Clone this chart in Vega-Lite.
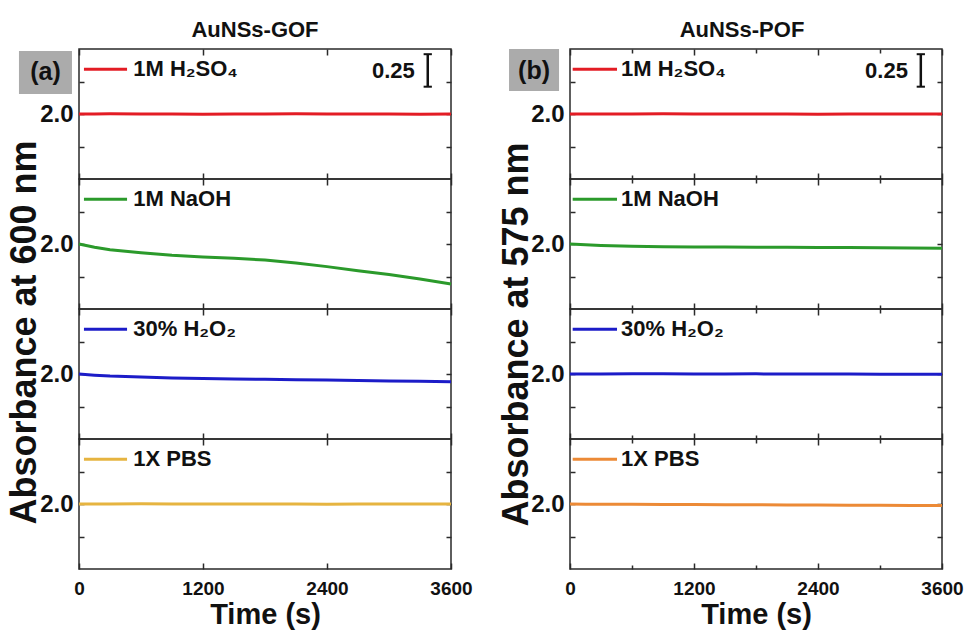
{
"$schema":"https://vega.github.io/schema/vega-lite/v6.json",
"padding":{"left":5,"top":18,"right":5,"bottom":0},
"background":"white",
"config":{"font":"Liberation Sans","view":{"stroke":"#2a2a2a","strokeWidth":1.5},
"axis":{"domain":false,"grid":false,"tickColor":"#2a2a2a","tickWidth":1.5,"labelFontWeight":"bold","labelColor":"#111","titleColor":"#111","titleFontWeight":"bold"},
"title":{"fontWeight":"bold","color":"#111","font":"Liberation Sans"}},
"datasets":{"abs":[
{"panel":"a","series":"1M H₂SO₄","t":0,"A":2.0},{"panel":"a","series":"1M H₂SO₄","t":150,"A":2.0},{"panel":"a","series":"1M H₂SO₄","t":300,"A":2.001},{"panel":"a","series":"1M H₂SO₄","t":600,"A":2.0},{"panel":"a","series":"1M H₂SO₄","t":900,"A":2.0},{"panel":"a","series":"1M H₂SO₄","t":1200,"A":1.999},{"panel":"a","series":"1M H₂SO₄","t":1500,"A":2.0},{"panel":"a","series":"1M H₂SO₄","t":1800,"A":2.0},{"panel":"a","series":"1M H₂SO₄","t":2100,"A":2.001},{"panel":"a","series":"1M H₂SO₄","t":2400,"A":2.0},{"panel":"a","series":"1M H₂SO₄","t":2700,"A":2.0},{"panel":"a","series":"1M H₂SO₄","t":3000,"A":2.0},{"panel":"a","series":"1M H₂SO₄","t":3300,"A":1.999},{"panel":"a","series":"1M H₂SO₄","t":3600,"A":2.0},
{"panel":"a","series":"1M NaOH","t":0,"A":2.0},{"panel":"a","series":"1M NaOH","t":150,"A":1.975},{"panel":"a","series":"1M NaOH","t":300,"A":1.955},{"panel":"a","series":"1M NaOH","t":600,"A":1.933},{"panel":"a","series":"1M NaOH","t":900,"A":1.913},{"panel":"a","series":"1M NaOH","t":1200,"A":1.9},{"panel":"a","series":"1M NaOH","t":1500,"A":1.891},{"panel":"a","series":"1M NaOH","t":1800,"A":1.876},{"panel":"a","series":"1M NaOH","t":2100,"A":1.854},{"panel":"a","series":"1M NaOH","t":2400,"A":1.826},{"panel":"a","series":"1M NaOH","t":2700,"A":1.795},{"panel":"a","series":"1M NaOH","t":3000,"A":1.765},{"panel":"a","series":"1M NaOH","t":3300,"A":1.73},{"panel":"a","series":"1M NaOH","t":3600,"A":1.692},
{"panel":"a","series":"30% H₂O₂","t":0,"A":2.0},{"panel":"a","series":"30% H₂O₂","t":150,"A":1.991},{"panel":"a","series":"30% H₂O₂","t":300,"A":1.984},{"panel":"a","series":"30% H₂O₂","t":600,"A":1.976},{"panel":"a","series":"30% H₂O₂","t":900,"A":1.970},{"panel":"a","series":"30% H₂O₂","t":1200,"A":1.966},{"panel":"a","series":"30% H₂O₂","t":1500,"A":1.962},{"panel":"a","series":"30% H₂O₂","t":1800,"A":1.959},{"panel":"a","series":"30% H₂O₂","t":2100,"A":1.956},{"panel":"a","series":"30% H₂O₂","t":2400,"A":1.953},{"panel":"a","series":"30% H₂O₂","t":2700,"A":1.950},{"panel":"a","series":"30% H₂O₂","t":3000,"A":1.947},{"panel":"a","series":"30% H₂O₂","t":3300,"A":1.945},{"panel":"a","series":"30% H₂O₂","t":3600,"A":1.941},
{"panel":"a","series":"1X PBS","t":0,"A":2.0},{"panel":"a","series":"1X PBS","t":150,"A":2.0},{"panel":"a","series":"1X PBS","t":300,"A":2.0},{"panel":"a","series":"1X PBS","t":600,"A":2.001},{"panel":"a","series":"1X PBS","t":900,"A":2.0},{"panel":"a","series":"1X PBS","t":1200,"A":2.0},{"panel":"a","series":"1X PBS","t":1500,"A":2.0},{"panel":"a","series":"1X PBS","t":1800,"A":2.0},{"panel":"a","series":"1X PBS","t":2100,"A":2.0},{"panel":"a","series":"1X PBS","t":2400,"A":1.999},{"panel":"a","series":"1X PBS","t":2700,"A":2.0},{"panel":"a","series":"1X PBS","t":3000,"A":2.0},{"panel":"a","series":"1X PBS","t":3300,"A":2.0},{"panel":"a","series":"1X PBS","t":3600,"A":2.0},
{"panel":"b","series":"1M H₂SO₄","t":0,"A":2.0},{"panel":"b","series":"1M H₂SO₄","t":150,"A":2.0},{"panel":"b","series":"1M H₂SO₄","t":300,"A":2.0},{"panel":"b","series":"1M H₂SO₄","t":600,"A":2.0},{"panel":"b","series":"1M H₂SO₄","t":900,"A":2.001},{"panel":"b","series":"1M H₂SO₄","t":1200,"A":2.0},{"panel":"b","series":"1M H₂SO₄","t":1500,"A":2.0},{"panel":"b","series":"1M H₂SO₄","t":1800,"A":2.0},{"panel":"b","series":"1M H₂SO₄","t":2100,"A":2.0},{"panel":"b","series":"1M H₂SO₄","t":2400,"A":1.999},{"panel":"b","series":"1M H₂SO₄","t":2700,"A":2.0},{"panel":"b","series":"1M H₂SO₄","t":3000,"A":2.0},{"panel":"b","series":"1M H₂SO₄","t":3300,"A":2.0},{"panel":"b","series":"1M H₂SO₄","t":3600,"A":2.0},
{"panel":"b","series":"1M NaOH","t":0,"A":2.0},{"panel":"b","series":"1M NaOH","t":150,"A":1.994},{"panel":"b","series":"1M NaOH","t":300,"A":1.989},{"panel":"b","series":"1M NaOH","t":600,"A":1.983},{"panel":"b","series":"1M NaOH","t":900,"A":1.979},{"panel":"b","series":"1M NaOH","t":1200,"A":1.977},{"panel":"b","series":"1M NaOH","t":1500,"A":1.976},{"panel":"b","series":"1M NaOH","t":1800,"A":1.975},{"panel":"b","series":"1M NaOH","t":2100,"A":1.975},{"panel":"b","series":"1M NaOH","t":2400,"A":1.974},{"panel":"b","series":"1M NaOH","t":2700,"A":1.973},{"panel":"b","series":"1M NaOH","t":3000,"A":1.971},{"panel":"b","series":"1M NaOH","t":3300,"A":1.969},{"panel":"b","series":"1M NaOH","t":3600,"A":1.967},
{"panel":"b","series":"30% H₂O₂","t":0,"A":2.0},{"panel":"b","series":"30% H₂O₂","t":150,"A":2.0},{"panel":"b","series":"30% H₂O₂","t":300,"A":2.0},{"panel":"b","series":"30% H₂O₂","t":600,"A":2.001},{"panel":"b","series":"30% H₂O₂","t":900,"A":2.001},{"panel":"b","series":"30% H₂O₂","t":1200,"A":2.0},{"panel":"b","series":"30% H₂O₂","t":1500,"A":2.0},{"panel":"b","series":"30% H₂O₂","t":1800,"A":2.001},{"panel":"b","series":"30% H₂O₂","t":2100,"A":2.0},{"panel":"b","series":"30% H₂O₂","t":2400,"A":2.0},{"panel":"b","series":"30% H₂O₂","t":2700,"A":2.0},{"panel":"b","series":"30% H₂O₂","t":3000,"A":1.999},{"panel":"b","series":"30% H₂O₂","t":3300,"A":1.999},{"panel":"b","series":"30% H₂O₂","t":3600,"A":1.999},
{"panel":"b","series":"1X PBS","t":0,"A":2.0},{"panel":"b","series":"1X PBS","t":150,"A":1.999},{"panel":"b","series":"1X PBS","t":300,"A":1.999},{"panel":"b","series":"1X PBS","t":600,"A":1.998},{"panel":"b","series":"1X PBS","t":900,"A":1.997},{"panel":"b","series":"1X PBS","t":1200,"A":1.996},{"panel":"b","series":"1X PBS","t":1500,"A":1.995},{"panel":"b","series":"1X PBS","t":1800,"A":1.994},{"panel":"b","series":"1X PBS","t":2100,"A":1.993},{"panel":"b","series":"1X PBS","t":2400,"A":1.992},{"panel":"b","series":"1X PBS","t":2700,"A":1.991},{"panel":"b","series":"1X PBS","t":3000,"A":1.990},{"panel":"b","series":"1X PBS","t":3300,"A":1.989},{"panel":"b","series":"1X PBS","t":3600,"A":1.988}
]},
"data":{"name":"abs"},
"spacing":24,
"hconcat":[
{"spacing":0,"bounds":"flush",
 "vconcat":[
 {"width":372,"height":130,
  "title":{"text":"AuNSs-GOF","fontSize":22,"anchor":"middle","offset":6,"dx":-10},
  "transform":[{"filter":"datum.panel === 'a' && datum.series === '1M H₂SO₄'"}],
  "resolve":{"axis":{"x":"independent","y":"independent"}},
  "layer":[
   {"mark":{"type":"line","color":"#e31c24","strokeWidth":3},
    "encoding":{"x":{"field":"t","type":"quantitative","scale":{"domain":[0,3600],"nice":false,"zero":false},"axis":{"orient":"bottom","values":[0,1200,2400,3600],"tickSize":-6,"labels":false,"title":null}},
     "y":{"field":"A","type":"quantitative","scale":{"domain":[1.5,2.5],"nice":false,"zero":false},"axis":{"orient":"left","values":[1.75,2,2.25],"tickSize":-5,"labelExpr":"datum.value === 2 ? '2.0' : ''","labelFontSize":24,"labelPadding":11,"title":"Absorbance at 600 nm","titleFontSize":36,"titleX":-55,"titleY":283,"titleAngle":-90,"titleAlign":"center","titleBaseline":"middle"}}}},
   {"transform":[{"filter":"datum.t === 0"}],"mark":{"type":"rule","color":"#e31c24","strokeWidth":3},
    "encoding":{"x":{"datum":48,"type":"quantitative","axis":{"orient":"top","values":[0,1200,2400,3600],"tickSize":-6,"labels":false,"title":null}},"x2":{"datum":465},
     "y":{"datum":2.345,"type":"quantitative","axis":{"orient":"right","values":[1.75,2,2.25],"tickSize":-5,"labels":false,"title":null}}}},
   {"transform":[{"filter":"datum.t === 0"}],"mark":{"type":"text","align":"left","baseline":"middle","fontSize":22,"fontWeight":"bold","color":"#111"},
    "encoding":{"x":{"datum":525,"type":"quantitative","axis":null},"y":{"datum":2.345,"type":"quantitative","axis":null},"text":{"field":"series"}}},
   {"transform":[{"filter":"datum.t === 0"}],"mark":{"type":"rect","color":"#ababab"},
    "encoding":{"x":{"datum":-581,"type":"quantitative","axis":null},"x2":{"datum":-68},"y":{"datum":2.485,"type":"quantitative","axis":null},"y2":{"datum":2.154}}},
   {"transform":[{"filter":"datum.t === 0"}],"mark":{"type":"text","text":"(a)","fontSize":25,"fontWeight":"bold","color":"#111","align":"center","baseline":"middle"},
    "encoding":{"x":{"datum":-324,"type":"quantitative","axis":null},"y":{"datum":2.32,"type":"quantitative","axis":null}}},
   {"transform":[{"filter":"datum.t === 0"}],"mark":{"type":"rule","color":"#111","strokeWidth":2.5},
    "encoding":{"x":{"datum":3375,"type":"quantitative","axis":null},"y":{"datum":2.46,"type":"quantitative","axis":null},"y2":{"datum":2.21}}},
   {"transform":[{"filter":"datum.t === 0"}],"mark":{"type":"rule","color":"#111","strokeWidth":2},
    "encoding":{"x":{"datum":3335,"type":"quantitative","axis":null},"x2":{"datum":3415},"y":{"datum":2.46,"type":"quantitative","axis":null}}},
   {"transform":[{"filter":"datum.t === 0"}],"mark":{"type":"rule","color":"#111","strokeWidth":2},
    "encoding":{"x":{"datum":3335,"type":"quantitative","axis":null},"x2":{"datum":3415},"y":{"datum":2.21,"type":"quantitative","axis":null}}},
   {"transform":[{"filter":"datum.t === 0"}],"mark":{"type":"text","text":"0.25","fontSize":22,"fontWeight":"bold","color":"#111","align":"right","baseline":"middle"},
    "encoding":{"x":{"datum":3250,"type":"quantitative","axis":null},"y":{"datum":2.33,"type":"quantitative","axis":null}}}
  ]},
 {"width":372,"height":130,
  "transform":[{"filter":"datum.panel === 'a' && datum.series === '1M NaOH'"}],
  "resolve":{"axis":{"x":"independent","y":"independent"}},
  "layer":[
   {"mark":{"type":"line","color":"#2b9a2b","strokeWidth":3},
    "encoding":{"x":{"field":"t","type":"quantitative","scale":{"domain":[0,3600],"nice":false,"zero":false},"axis":{"orient":"bottom","values":[0,1200,2400,3600],"tickSize":-6,"labels":false,"title":null}},
     "y":{"field":"A","type":"quantitative","scale":{"domain":[1.5,2.5],"nice":false,"zero":false},"axis":{"orient":"left","values":[1.75,2,2.25],"tickSize":-5,"labelExpr":"datum.value === 2 ? '2.0' : ''","labelFontSize":24,"labelPadding":11,"title":null}}}},
   {"transform":[{"filter":"datum.t === 0"}],"mark":{"type":"rule","color":"#2b9a2b","strokeWidth":3},
    "encoding":{"x":{"datum":48,"type":"quantitative","axis":{"orient":"top","values":[0,1200,2400,3600],"tickSize":-6,"labels":false,"title":null}},"x2":{"datum":465},
     "y":{"datum":2.345,"type":"quantitative","axis":{"orient":"right","values":[1.75,2,2.25],"tickSize":-5,"labels":false,"title":null}}}},
   {"transform":[{"filter":"datum.t === 0"}],"mark":{"type":"text","align":"left","baseline":"middle","fontSize":22,"fontWeight":"bold","color":"#111"},
    "encoding":{"x":{"datum":525,"type":"quantitative","axis":null},"y":{"datum":2.345,"type":"quantitative","axis":null},"text":{"field":"series"}}}
  ]},
 {"width":372,"height":130,
  "transform":[{"filter":"datum.panel === 'a' && datum.series === '30% H₂O₂'"}],
  "resolve":{"axis":{"x":"independent","y":"independent"}},
  "layer":[
   {"mark":{"type":"line","color":"#1c1cc8","strokeWidth":3},
    "encoding":{"x":{"field":"t","type":"quantitative","scale":{"domain":[0,3600],"nice":false,"zero":false},"axis":{"orient":"bottom","values":[0,1200,2400,3600],"tickSize":-6,"labels":false,"title":null}},
     "y":{"field":"A","type":"quantitative","scale":{"domain":[1.5,2.5],"nice":false,"zero":false},"axis":{"orient":"left","values":[1.75,2,2.25],"tickSize":-5,"labelExpr":"datum.value === 2 ? '2.0' : ''","labelFontSize":24,"labelPadding":11,"title":null}}}},
   {"transform":[{"filter":"datum.t === 0"}],"mark":{"type":"rule","color":"#1c1cc8","strokeWidth":3},
    "encoding":{"x":{"datum":48,"type":"quantitative","axis":{"orient":"top","values":[0,1200,2400,3600],"tickSize":-6,"labels":false,"title":null}},"x2":{"datum":465},
     "y":{"datum":2.345,"type":"quantitative","axis":{"orient":"right","values":[1.75,2,2.25],"tickSize":-5,"labels":false,"title":null}}}},
   {"transform":[{"filter":"datum.t === 0"}],"mark":{"type":"text","align":"left","baseline":"middle","fontSize":22,"fontWeight":"bold","color":"#111"},
    "encoding":{"x":{"datum":525,"type":"quantitative","axis":null},"y":{"datum":2.345,"type":"quantitative","axis":null},"text":{"field":"series"}}}
  ]},
 {"width":372,"height":130,
  "transform":[{"filter":"datum.panel === 'a' && datum.series === '1X PBS'"}],
  "resolve":{"axis":{"x":"independent","y":"independent"}},
  "layer":[
   {"mark":{"type":"line","color":"#e6b440","strokeWidth":3},
    "encoding":{"x":{"field":"t","type":"quantitative","scale":{"domain":[0,3600],"nice":false,"zero":false},"axis":{"orient":"bottom","values":[0,1200,2400,3600],"tickSize":-6,"format":"d","labelFontSize":19,"labelPadding":16,"labelFlush":false,"title":"Time (s)","titleFontSize":29,"titlePadding":2}},
     "y":{"field":"A","type":"quantitative","scale":{"domain":[1.5,2.5],"nice":false,"zero":false},"axis":{"orient":"left","values":[1.75,2,2.25],"tickSize":-5,"labelExpr":"datum.value === 2 ? '2.0' : ''","labelFontSize":24,"labelPadding":11,"title":null}}}},
   {"transform":[{"filter":"datum.t === 0"}],"mark":{"type":"rule","color":"#e6b440","strokeWidth":3},
    "encoding":{"x":{"datum":48,"type":"quantitative","axis":{"orient":"top","values":[0,1200,2400,3600],"tickSize":-6,"labels":false,"title":null}},"x2":{"datum":465},
     "y":{"datum":2.345,"type":"quantitative","axis":{"orient":"right","values":[1.75,2,2.25],"tickSize":-5,"labels":false,"title":null}}}},
   {"transform":[{"filter":"datum.t === 0"}],"mark":{"type":"text","align":"left","baseline":"middle","fontSize":22,"fontWeight":"bold","color":"#111"},
    "encoding":{"x":{"datum":525,"type":"quantitative","axis":null},"y":{"datum":2.345,"type":"quantitative","axis":null},"text":{"field":"series"}}}
  ]}
 ]},
{"spacing":0,"bounds":"flush",
 "vconcat":[
 {"width":372,"height":130,
  "title":{"text":"AuNSs-POF","fontSize":22,"anchor":"middle","offset":6,"dx":-14},
  "transform":[{"filter":"datum.panel === 'b' && datum.series === '1M H₂SO₄'"}],
  "resolve":{"axis":{"x":"independent","y":"independent"}},
  "layer":[
   {"mark":{"type":"line","color":"#e31c24","strokeWidth":3},
    "encoding":{"x":{"field":"t","type":"quantitative","scale":{"domain":[0,3600],"nice":false,"zero":false},"axis":{"orient":"bottom","values":[0,600,1200,1800,2400,3000,3600],"tickSize":{"condition":{"test":"datum.value % 1200 === 0","value":-6},"value":-4},"labels":false,"title":null}},
     "y":{"field":"A","type":"quantitative","scale":{"domain":[1.5,2.5],"nice":false,"zero":false},"axis":{"orient":"left","values":[1.75,2,2.25],"tickSize":-5,"labelExpr":"datum.value === 2 ? '2.0' : ''","labelFontSize":24,"labelPadding":11,"title":"Absorbance at 575 nm","titleFontSize":36,"titleX":-54,"titleY":285,"titleAngle":-90,"titleAlign":"center","titleBaseline":"middle"}}}},
   {"transform":[{"filter":"datum.t === 0"}],"mark":{"type":"rule","color":"#e31c24","strokeWidth":3},
    "encoding":{"x":{"datum":26,"type":"quantitative","axis":{"orient":"top","values":[0,600,1200,1800,2400,3000,3600],"tickSize":{"condition":{"test":"datum.value % 1200 === 0","value":-6},"value":-4},"labels":false,"title":null}},"x2":{"datum":455},
     "y":{"datum":2.345,"type":"quantitative","axis":{"orient":"right","values":[1.75,2,2.25],"tickSize":-5,"labels":false,"title":null}}}},
   {"transform":[{"filter":"datum.t === 0"}],"mark":{"type":"text","align":"left","baseline":"middle","fontSize":22,"fontWeight":"bold","color":"#111"},
    "encoding":{"x":{"datum":494,"type":"quantitative","axis":null},"y":{"datum":2.345,"type":"quantitative","axis":null},"text":{"field":"series"}}},
   {"transform":[{"filter":"datum.t === 0"}],"mark":{"type":"rect","color":"#ababab"},
    "encoding":{"x":{"datum":-590,"type":"quantitative","axis":null},"x2":{"datum":-106},"y":{"datum":2.5,"type":"quantitative","axis":null},"y2":{"datum":2.177}}},
   {"transform":[{"filter":"datum.t === 0"}],"mark":{"type":"text","text":"(b)","fontSize":25,"fontWeight":"bold","color":"#111","align":"center","baseline":"middle"},
    "encoding":{"x":{"datum":-348,"type":"quantitative","axis":null},"y":{"datum":2.33,"type":"quantitative","axis":null}}},
   {"transform":[{"filter":"datum.t === 0"}],"mark":{"type":"rule","color":"#111","strokeWidth":2.5},
    "encoding":{"x":{"datum":3395,"type":"quantitative","axis":null},"y":{"datum":2.46,"type":"quantitative","axis":null},"y2":{"datum":2.21}}},
   {"transform":[{"filter":"datum.t === 0"}],"mark":{"type":"rule","color":"#111","strokeWidth":2},
    "encoding":{"x":{"datum":3355,"type":"quantitative","axis":null},"x2":{"datum":3435},"y":{"datum":2.46,"type":"quantitative","axis":null}}},
   {"transform":[{"filter":"datum.t === 0"}],"mark":{"type":"rule","color":"#111","strokeWidth":2},
    "encoding":{"x":{"datum":3355,"type":"quantitative","axis":null},"x2":{"datum":3435},"y":{"datum":2.21,"type":"quantitative","axis":null}}},
   {"transform":[{"filter":"datum.t === 0"}],"mark":{"type":"text","text":"0.25","fontSize":22,"fontWeight":"bold","color":"#111","align":"right","baseline":"middle"},
    "encoding":{"x":{"datum":3270,"type":"quantitative","axis":null},"y":{"datum":2.33,"type":"quantitative","axis":null}}}
  ]},
 {"width":372,"height":130,
  "transform":[{"filter":"datum.panel === 'b' && datum.series === '1M NaOH'"}],
  "resolve":{"axis":{"x":"independent","y":"independent"}},
  "layer":[
   {"mark":{"type":"line","color":"#2b9a2b","strokeWidth":3},
    "encoding":{"x":{"field":"t","type":"quantitative","scale":{"domain":[0,3600],"nice":false,"zero":false},"axis":{"orient":"bottom","values":[0,600,1200,1800,2400,3000,3600],"tickSize":{"condition":{"test":"datum.value % 1200 === 0","value":-6},"value":-4},"labels":false,"title":null}},
     "y":{"field":"A","type":"quantitative","scale":{"domain":[1.5,2.5],"nice":false,"zero":false},"axis":{"orient":"left","values":[1.75,2,2.25],"tickSize":-5,"labelExpr":"datum.value === 2 ? '2.0' : ''","labelFontSize":24,"labelPadding":11,"title":null}}}},
   {"transform":[{"filter":"datum.t === 0"}],"mark":{"type":"rule","color":"#2b9a2b","strokeWidth":3},
    "encoding":{"x":{"datum":26,"type":"quantitative","axis":{"orient":"top","values":[0,600,1200,1800,2400,3000,3600],"tickSize":{"condition":{"test":"datum.value % 1200 === 0","value":-6},"value":-4},"labels":false,"title":null}},"x2":{"datum":455},
     "y":{"datum":2.345,"type":"quantitative","axis":{"orient":"right","values":[1.75,2,2.25],"tickSize":-5,"labels":false,"title":null}}}},
   {"transform":[{"filter":"datum.t === 0"}],"mark":{"type":"text","align":"left","baseline":"middle","fontSize":22,"fontWeight":"bold","color":"#111"},
    "encoding":{"x":{"datum":494,"type":"quantitative","axis":null},"y":{"datum":2.345,"type":"quantitative","axis":null},"text":{"field":"series"}}}
  ]},
 {"width":372,"height":130,
  "transform":[{"filter":"datum.panel === 'b' && datum.series === '30% H₂O₂'"}],
  "resolve":{"axis":{"x":"independent","y":"independent"}},
  "layer":[
   {"mark":{"type":"line","color":"#1c1cc8","strokeWidth":3},
    "encoding":{"x":{"field":"t","type":"quantitative","scale":{"domain":[0,3600],"nice":false,"zero":false},"axis":{"orient":"bottom","values":[0,600,1200,1800,2400,3000,3600],"tickSize":{"condition":{"test":"datum.value % 1200 === 0","value":-6},"value":-4},"labels":false,"title":null}},
     "y":{"field":"A","type":"quantitative","scale":{"domain":[1.5,2.5],"nice":false,"zero":false},"axis":{"orient":"left","values":[1.75,2,2.25],"tickSize":-5,"labelExpr":"datum.value === 2 ? '2.0' : ''","labelFontSize":24,"labelPadding":11,"title":null}}}},
   {"transform":[{"filter":"datum.t === 0"}],"mark":{"type":"rule","color":"#1c1cc8","strokeWidth":3},
    "encoding":{"x":{"datum":26,"type":"quantitative","axis":{"orient":"top","values":[0,600,1200,1800,2400,3000,3600],"tickSize":{"condition":{"test":"datum.value % 1200 === 0","value":-6},"value":-4},"labels":false,"title":null}},"x2":{"datum":455},
     "y":{"datum":2.345,"type":"quantitative","axis":{"orient":"right","values":[1.75,2,2.25],"tickSize":-5,"labels":false,"title":null}}}},
   {"transform":[{"filter":"datum.t === 0"}],"mark":{"type":"text","align":"left","baseline":"middle","fontSize":22,"fontWeight":"bold","color":"#111"},
    "encoding":{"x":{"datum":494,"type":"quantitative","axis":null},"y":{"datum":2.345,"type":"quantitative","axis":null},"text":{"field":"series"}}}
  ]},
 {"width":372,"height":130,
  "transform":[{"filter":"datum.panel === 'b' && datum.series === '1X PBS'"}],
  "resolve":{"axis":{"x":"independent","y":"independent"}},
  "layer":[
   {"mark":{"type":"line","color":"#ec8a36","strokeWidth":3},
    "encoding":{"x":{"field":"t","type":"quantitative","scale":{"domain":[0,3600],"nice":false,"zero":false},"axis":{"orient":"bottom","values":[0,600,1200,1800,2400,3000,3600],"tickSize":{"condition":{"test":"datum.value % 1200 === 0","value":-6},"value":-4},"format":"d","labelExpr":"datum.value % 1200 === 0 ? datum.label : ''","labelFontSize":19,"labelPadding":16,"labelFlush":false,"title":"Time (s)","titleFontSize":29,"titlePadding":2}},
     "y":{"field":"A","type":"quantitative","scale":{"domain":[1.5,2.5],"nice":false,"zero":false},"axis":{"orient":"left","values":[1.75,2,2.25],"tickSize":-5,"labelExpr":"datum.value === 2 ? '2.0' : ''","labelFontSize":24,"labelPadding":11,"title":null}}}},
   {"transform":[{"filter":"datum.t === 0"}],"mark":{"type":"rule","color":"#ec8a36","strokeWidth":3},
    "encoding":{"x":{"datum":26,"type":"quantitative","axis":{"orient":"top","values":[0,600,1200,1800,2400,3000,3600],"tickSize":{"condition":{"test":"datum.value % 1200 === 0","value":-6},"value":-4},"labels":false,"title":null}},"x2":{"datum":455},
     "y":{"datum":2.345,"type":"quantitative","axis":{"orient":"right","values":[1.75,2,2.25],"tickSize":-5,"labels":false,"title":null}}}},
   {"transform":[{"filter":"datum.t === 0"}],"mark":{"type":"text","align":"left","baseline":"middle","fontSize":22,"fontWeight":"bold","color":"#111"},
    "encoding":{"x":{"datum":494,"type":"quantitative","axis":null},"y":{"datum":2.345,"type":"quantitative","axis":null},"text":{"field":"series"}}}
  ]}
 ]}
]
}
